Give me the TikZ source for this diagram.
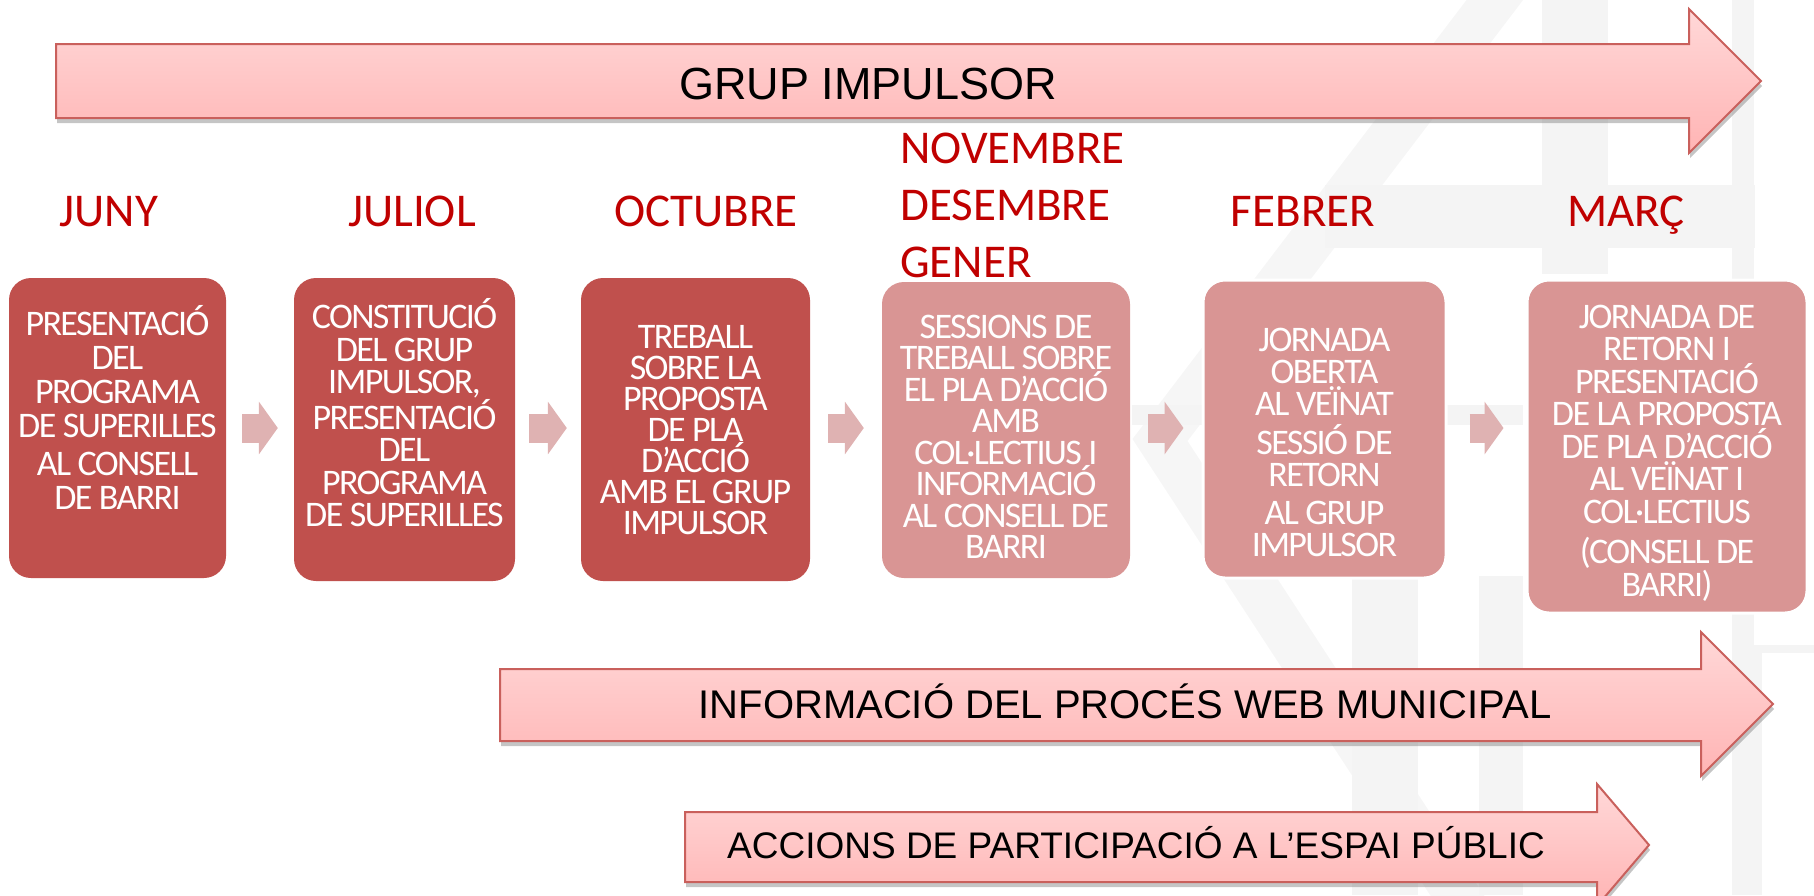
\documentclass[tikz,border=0pt]{standalone}
\usepackage{fontspec}
\setmainfont{Carlito}
\newfontfamily\arialfont{Liberation Sans}
\newfontfamily\boxfont[LetterSpace=-4.5]{Carlito}
\usetikzlibrary{arrows.meta,shadows}
\definecolor{vermellfosc}{HTML}{C0504D}
\definecolor{vermellclar}{HTML}{D99594}
\definecolor{vermellmes}{HTML}{C00000}
\definecolor{fletxacol}{HTML}{DFB2B2}
\definecolor{rosadalt}{HTML}{FFD8D8}
\definecolor{rosabaix}{HTML}{FFB4B4}
\definecolor{vora}{HTML}{C9605C}
\definecolor{fons}{HTML}{F4F4F4}
\definecolor{fonsdiag}{HTML}{F6F6F6}
\tikzset{
  caixa/.style={rounded corners=22pt, inner sep=0pt},
  textcaixa/.style={text=white, align=center, inner sep=0pt, font=\boxfont\fontsize{36}{31}\selectfont},
  mesos/.style={anchor=base, inner sep=0pt, text=vermellmes, font=\fontsize{47}{57}\selectfont},
  retol/.style={anchor=base, inner sep=0pt, font=\arialfont\fontsize{#1}{#1}\selectfont},
  banda/.style={draw=vora, line width=2pt, top color=rosadalt, bottom color=rosabaix,
    drop shadow={shadow xshift=1pt, shadow yshift=-5pt, fill=black!45, opacity=0.5}},
  fletxa/.style={draw=fletxacol, line width=29pt, -{Triangle[length=19pt,width=52pt]},
    shorten <=#1, shorten >=#1}
}
\begin{document}
\begin{tikzpicture}[x=1pt, y=-1pt]
  \useasboundingbox (0,0) rectangle (1814,895);

  % fons clar
  \draw[fonsdiag, line width=45pt] (1510,-20) -- (1160,440) -- (1470,915);
  \fill[fons] (1542,0) rectangle (1608,274);
  \fill[fons] (1732,0) rectangle (1754,895);
  \fill[fons] (1325,185) rectangle (1755,248);
  \fill[fons] (1132,405) rectangle (1209,425);
  \fill[fons] (1446,405) rectangle (1523,425);
  \fill[fons] (1352,576) rectangle (1418,895);
  \fill[fons] (1479,576) rectangle (1523,895);
  \fill[fons] (1754,645) rectangle (1814,895);
  \fill[white] (1762,653) rectangle (1814,895);

  % fletxa de dalt
  \path[banda] (56,44) -- (1689,44) -- (1689,9) -- (1761,81) -- (1689,153) -- (1689,118) -- (56,118) -- cycle;
  \node[retol=45] (grup) at (868,99) {GRUP IMPULSOR};

  % mesos
  \node[mesos] (juny) at (109,226) {JUNY};
  \node[mesos] (juliol) at (412,226) {JULIOL};
  \node[mesos] (octubre) at (706,226) {OCTUBRE};
  \node[mesos, anchor=west, align=left] (novembre) at (900,205.5) {NOVEMBRE\\DESEMBRE\\GENER};
  \node[mesos] (febrer) at (1303,226) {FEBRER};
  \node[mesos] (marc) at (1626,226) {MARÇ};

  % caixes
  \node[caixa, fill=vermellfosc, minimum width=217pt, minimum height=300pt] (b1) at (117.5,428) {};
  \node[caixa, fill=vermellfosc, minimum width=221pt, minimum height=303pt] (b2) at (404.5,429.5) {};
  \node[caixa, fill=vermellfosc, minimum width=229pt, minimum height=303pt] (b3) at (695.5,429.5) {};
  \node[caixa, fill=vermellclar, minimum width=248pt, minimum height=296pt] (b4) at (1006,430) {};
  \node[caixa, fill=vermellclar, draw=white, line width=3pt, minimum width=243pt, minimum height=298pt] (b5) at (1324.5,429) {};
  \node[caixa, fill=vermellclar, draw=white, line width=3pt, minimum width=280pt, minimum height=333pt] (b6) at (1667,446.5) {};

  % textos de les caixes
  \node[textcaixa, font=\boxfont\fontsize{36}{34}\selectfont] (t1) at (117.5,407)
    {PRESENTACIÓ\\DEL\\PROGRAMA\\DE SUPERILLES\\[4pt]AL CONSELL\\DE BARRI};
  \node[textcaixa, font=\boxfont\fontsize{36}{32.5}\selectfont] (t2) at (404.5,413)
    {CONSTITUCIÓ\\DEL GRUP\\IMPULSOR,\\PRESENTACIÓ\\DEL\\PROGRAMA\\DE SUPERILLES};
  \node[textcaixa] (t3) at (695.5,430)
    {TREBALL\\SOBRE LA\\PROPOSTA\\DE PLA\\D’ACCIÓ\\AMB EL GRUP\\IMPULSOR};
  \node[textcaixa, font=\boxfont\fontsize{36}{31.5}\selectfont] (t4) at (1006,437)
    {SESSIONS DE\\TREBALL SOBRE\\EL PLA D’ACCIÓ\\AMB\\COL·LECTIUS I\\INFORMACIÓ\\AL CONSELL DE\\BARRI};
  \node[textcaixa, font=\boxfont\fontsize{36}{32}\selectfont] (t5) at (1324.5,442)
    {JORNADA\\OBERTA\\AL VEÏNAT\\[7pt]SESSIÓ DE\\RETORN\\[6pt]AL GRUP\\IMPULSOR};
  \node[textcaixa, font=\boxfont\fontsize{36}{32.5}\selectfont] (t6) at (1667,453)
    {JORNADA DE\\RETORN I\\PRESENTACIÓ\\DE LA PROPOSTA\\DE PLA D’ACCIÓ\\AL VEÏNAT I\\COL·LECTIUS\\[8pt](CONSELL DE\\BARRI)};

  % fletxes entre caixes
  \draw[fletxa=16pt] (b1.east |- 0,428) -- (b2.west |- 0,428);
  \draw[fletxa=14pt] (b2.east |- 0,428) -- (b3.west |- 0,428);
  \draw[fletxa=18pt] (b3.east |- 0,428) -- (b4.west |- 0,428);
  \draw[fletxa=18pt] (b4.east |- 0,428) -- (b5.west |- 0,428);
  \draw[fletxa=22pt] (b5.east |- 0,428) -- (b6.west |- 0,428);

  % fletxes de baix
  \path[banda] (500,669) -- (1701,669) -- (1701,632) -- (1773,704) -- (1701,776) -- (1701,741) -- (500,741) -- cycle;
  \node[retol=40] (web) at (1125,718) {INFORMACIÓ DEL PROCÉS WEB MUNICIPAL};

  \path[banda] (685,812) -- (1597,812) -- (1597,784) -- (1649,845) -- (1597,906) -- (1597,882) -- (685,882) -- cycle;
  \node[retol=37] (accions) at (1136,858.5) {ACCIONS DE PARTICIPACIÓ A L’ESPAI PÚBLIC};
\end{tikzpicture}
\end{document}
